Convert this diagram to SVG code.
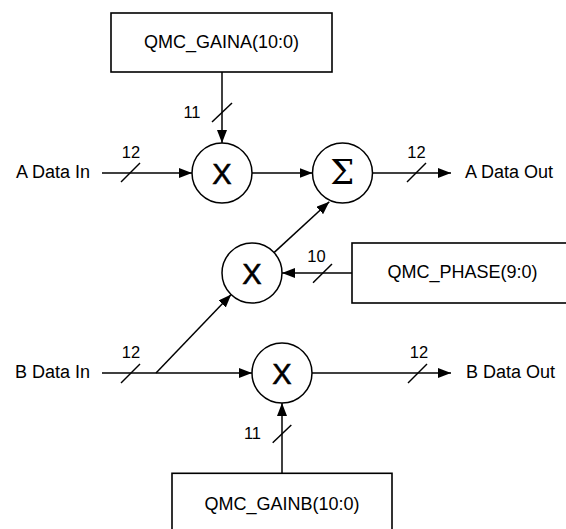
<svg xmlns="http://www.w3.org/2000/svg" width="566" height="529" viewBox="0 0 566 529">
<style>
.box{fill:#fff;stroke:#000;stroke-width:1.6}
.op{fill:#fff;stroke:#000;stroke-width:1.5}
.w{stroke:#000;stroke-width:1.5;fill:none}
.a{stroke:#000;stroke-width:1.5;fill:none;marker-end:url(#ah)}
.t{font-family:"Liberation Sans",Arial,sans-serif;font-size:18px;fill:#000}
.n{font-family:"Liberation Sans",Arial,sans-serif;font-size:16.5px;fill:#000;text-anchor:middle}
.x{font-family:"Liberation Sans",Arial,sans-serif;font-size:29px;fill:#000;stroke:#000;stroke-width:0.6;text-anchor:middle}
.s{font-family:"DejaVu Serif","Liberation Serif",serif;font-size:34px;fill:#000;text-anchor:middle}
</style>
<defs>
<marker id="ah" viewBox="0 0 13 10" refX="13" refY="5" markerWidth="13" markerHeight="10" markerUnits="userSpaceOnUse" orient="auto">
<path d="M0,0 L13,5 L0,10 z" fill="#000"/>
</marker>
</defs>
<g id="connectors">
<line class="a" x1="102" y1="173" x2="192" y2="173"/>
<line class="a" x1="222" y1="72" x2="222" y2="143"/>
<line class="a" x1="252" y1="173" x2="312.5" y2="173"/>
<line class="a" x1="372.5" y1="173" x2="451" y2="173"/>
<line class="a" x1="274" y1="252.6" x2="329.3" y2="201.7"/>
<line class="a" x1="352" y1="273" x2="282" y2="273"/>
<line class="a" x1="102" y1="373" x2="252" y2="373"/>
<line class="a" x1="156" y1="373" x2="231.2" y2="294.6"/>
<line class="a" x1="312" y1="373" x2="451" y2="373"/>
<line class="a" x1="282" y1="473" x2="282" y2="403"/>
<g id="bus-slashes">
<line class="w" x1="121" y1="182" x2="140" y2="163"/>
<line class="w" x1="212" y1="122" x2="232" y2="103"/>
<line class="w" x1="407" y1="182" x2="426" y2="163"/>
<line class="w" x1="313" y1="282.7" x2="332" y2="264"/>
<line class="w" x1="121" y1="383" x2="140" y2="364"/>
<line class="w" x1="408" y1="383" x2="427" y2="364"/>
<line class="w" x1="272.7" y1="442.7" x2="291.3" y2="425"/>
</g>
<g id="bus-widths">
<text class="n" x="131" y="158.3">12</text>
<text class="n" x="192" y="118.3">11</text>
<text class="n" x="416.5" y="158.3">12</text>
<text class="n" x="316.5" y="261.5">10</text>
<text class="n" x="131" y="358.3">12</text>
<text class="n" x="419" y="358.3">12</text>
<text class="n" x="252.5" y="439">11</text>
</g>
</g>
<g id="label-a-in"><text class="t" x="90" y="178.3" text-anchor="end">A Data In</text></g>
<g id="label-b-in"><text class="t" x="90" y="378.3" text-anchor="end">B Data In</text></g>
<g id="label-a-out"><text class="t" x="465" y="178.3">A Data Out</text></g>
<g id="label-b-out"><text class="t" x="466" y="378.3">B Data Out</text></g>
<g id="gaina">
<rect class="box" x="111" y="13" width="221" height="59"/>
<text class="t" x="221.5" y="48.3" text-anchor="middle">QMC_GAINA(10:0)</text>
</g>
<g id="phase">
<rect class="box" x="352" y="243" width="222" height="60"/>
<text class="t" x="462.5" y="278.3" text-anchor="middle">QMC_PHASE(9:0)</text>
</g>
<g id="gainb">
<rect class="box" x="172" y="473.3" width="220" height="60"/>
<text class="t" x="282" y="510" text-anchor="middle">QMC_GAINB(10:0)</text>
</g>
<g id="mult-a">
<circle class="op" cx="222" cy="173" r="30"/>
<text class="x" x="222" y="183.8">X</text>
</g>
<g id="sum">
<circle class="op" cx="342.5" cy="173" r="30"/>
<text class="s" x="342.3" y="184.3">Σ</text>
</g>
<g id="mult-phase">
<circle class="op" cx="252" cy="273" r="30"/>
<text class="x" x="252" y="283.8">X</text>
</g>
<g id="mult-b">
<circle class="op" cx="282" cy="373" r="30"/>
<text class="x" x="282" y="383.8">X</text>
</g>
</svg>
